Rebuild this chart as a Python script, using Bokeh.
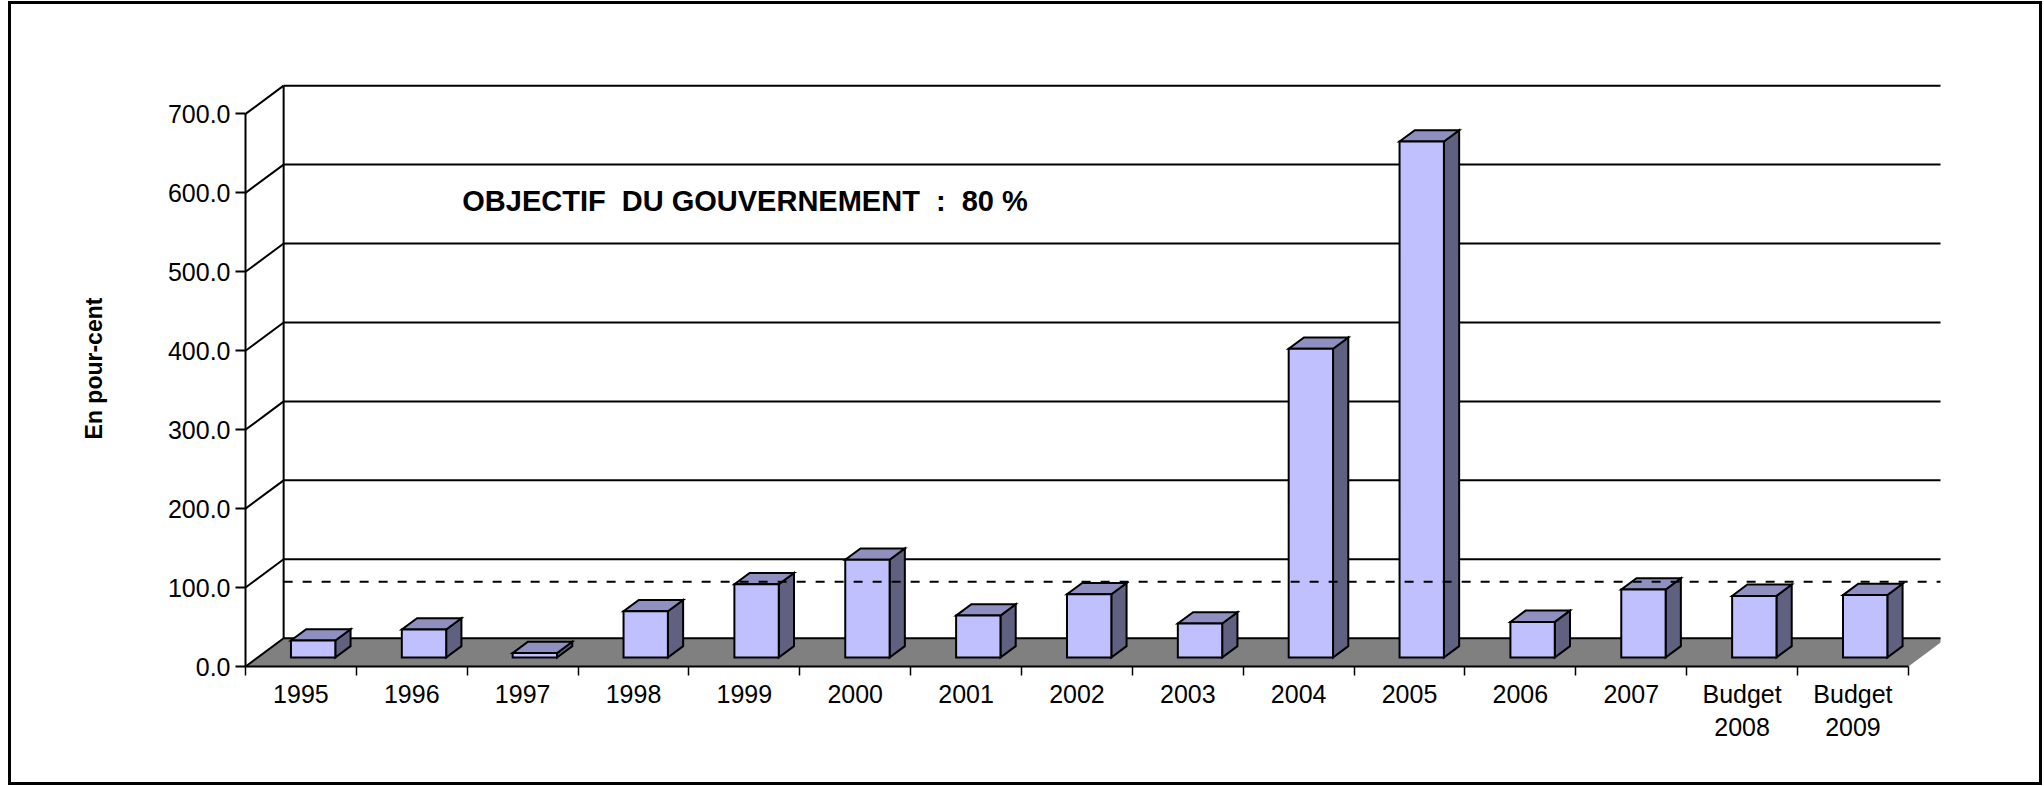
from bokeh.plotting import figure
from bokeh.models import Range1d, FixedTicker, Label
from bokeh.embed import file_html
from bokeh.resources import INLINE

# ---------------- data ----------------
categories = ["1995", "1996", "1997", "1998", "1999", "2000", "2001", "2002",
              "2003", "2004", "2005", "2006", "2007", "Budget\n2008", "Budget\n2009"]
values = [21.4, 35.4, 5.5, 58.5, 92.7, 123.8, 53.0, 80.0, 43.0, 391.0, 653.6,
          45.0, 86.0, 78.0, 79.0]
y_ticks = [0, 100, 200, 300, 400, 500, 600, 700]
y_tick_labels = ["0.0", "100.0", "200.0", "300.0", "400.0", "500.0", "600.0", "700.0"]
objectif_level = 107.5
annotation_text = "OBJECTIF\u00a0\u00a0DU GOUVERNEMENT\u00a0\u00a0:\u00a0\u00a080 %"
y_title = "En pour-cent"

# ---------------- geometry (page pixels -> canvas) ----------------
OX, OY = 11, 4                 # canvas origin on the page
W, H = 2028, 778
FRAME_L = 245 - OX
FRAME_B = 660 - OY
FRAME_T = 70 - OY
FRAME_R = 1934 - OX
PX_PER_CAT = (1902 - 245) / 15.0
PX_PER_UNIT = (660 - 113) / 700.0
DX = 38 / PX_PER_CAT           # depth offset in x data units
DY = 28 / PX_PER_UNIT          # depth offset in y data units
BAR_W = 0.40
D_FRONT, D_BACK = 0.32, 0.72

n = len(categories)
ymax = y_ticks[-1]

p = figure(width=W, height=H, output_backend="svg", toolbar_location=None,
           x_range=Range1d(0, (FRAME_R - FRAME_L) / PX_PER_CAT),
           y_range=Range1d(0, (FRAME_B - FRAME_T) / PX_PER_UNIT),
           min_border_left=FRAME_L, min_border_right=W - FRAME_R,
           min_border_top=FRAME_T, min_border_bottom=H - FRAME_B)
p.styles = {"border": "3px solid black", "box-sizing": "content-box",
            "margin-left": "8px", "margin-top": "1px"}
p.xgrid.visible = False
p.ygrid.visible = False
p.outline_line_color = None
p.background_fill_color = "white"
p.border_fill_color = "white"

FONT = "Liberation Sans"

# ---- floor ----
p.patch([0, n, n + DX, DX], [0, 0, DY, DY], fill_color="#808080", line_color=None)

# ---- walls: left-wall diagonals, back-wall gridlines ----
p.segment(x0=[0] * len(y_ticks), y0=y_ticks, x1=[DX] * len(y_ticks),
          y1=[v + DY for v in y_ticks], line_color="black", line_width=2)
p.segment(x0=[DX] * len(y_ticks), y0=[v + DY for v in y_ticks],
          x1=[n + DX] * len(y_ticks), y1=[v + DY for v in y_ticks],
          line_color="black", line_width=2)
p.segment(x0=[DX], y0=[DY], x1=[DX], y1=[ymax + DY], line_color="black", line_width=2)
p.segment(x0=[n + DX], y0=[DY], x1=[n + DX], y1=[ymax + DY], line_color="#808080", line_width=1.5)

# ---- 3D bars ----
front_xs, front_ys, top_xs, top_ys, side_xs, side_ys = [], [], [], [], [], []
bd = D_BACK - D_FRONT
for i, v in enumerate(values):
    c = i + 0.5
    xl = c - BAR_W / 2 + D_FRONT * DX
    xr = c + BAR_W / 2 + D_FRONT * DX
    yb = D_FRONT * DY
    yt = v + D_FRONT * DY
    front_xs.append([xl, xr, xr, xl]); front_ys.append([yb, yb, yt, yt])
    top_xs.append([xl, xr, xr + bd * DX, xl + bd * DX])
    top_ys.append([yt, yt, yt + bd * DY, yt + bd * DY])
    side_xs.append([xr, xr + bd * DX, xr + bd * DX, xr])
    side_ys.append([yb, yb + bd * DY, yt + bd * DY, yt])

p.patches(side_xs, side_ys, fill_color="#606080", line_color="black", line_width=2, line_join="miter")
p.patches(top_xs, top_ys, fill_color="#9090C0", line_color="black", line_width=2, line_join="miter")
p.patches(front_xs, front_ys, fill_color="#C0C0FF", line_color="black", line_width=2, line_join="miter")

# ---- objective dashed line ----
p.line([DX, n + DX], [objectif_level, objectif_level], line_color="black",
       line_width=2, line_dash="9 10")

# ---- annotation ----
p.add_layout(Label(x=(461 - 245) / PX_PER_CAT, y=(660 - 199) / PX_PER_UNIT,
                   text=annotation_text, text_font=FONT, text_font_style="bold",
                   text_font_size="29px", text_baseline="middle", text_align="left",
                   text_color="black"))

# ---- axes ----
xa = p.xaxis[0]
xa.ticker = FixedTicker(ticks=[i + 0.5 for i in range(n)], minor_ticks=list(range(n + 1)))
xa.major_label_overrides = {i + 0.5: cat for i, cat in enumerate(categories)}
xa.bounds = (0, n)
xa.axis_line_width = 2
xa.axis_line_color = "black"
xa.major_tick_line_color = None
xa.major_tick_out = 0
xa.major_tick_in = 0
xa.minor_tick_line_color = "black"
xa.minor_tick_line_width = 1.5
xa.minor_tick_out = 9
xa.minor_tick_in = 0
xa.major_label_standoff = 4
xa.major_label_text_font = FONT
xa.major_label_text_font_size = "25px"
xa.major_label_text_color = "black"

ya = p.yaxis[0]
ya.ticker = FixedTicker(ticks=y_ticks, minor_ticks=[])
ya.major_label_overrides = {t: lab for t, lab in zip(y_ticks, y_tick_labels)}
ya.bounds = (0, ymax)
ya.axis_line_width = 2
ya.axis_line_color = "black"
ya.major_tick_line_color = "black"
ya.major_tick_line_width = 2
ya.major_tick_out = 10
ya.major_tick_in = 0
ya.major_label_standoff = 5
ya.major_label_text_font = FONT
ya.major_label_text_font_size = "25px"
ya.major_label_text_color = "black"
ya.axis_label = y_title
ya.axis_label_text_font = FONT
ya.axis_label_text_font_style = "bold"
ya.axis_label_text_font_size = "23px"
ya.axis_label_text_color = "black"
ya.axis_label_standoff = 58

open("out.html", "w").write(file_html(p, INLINE))
